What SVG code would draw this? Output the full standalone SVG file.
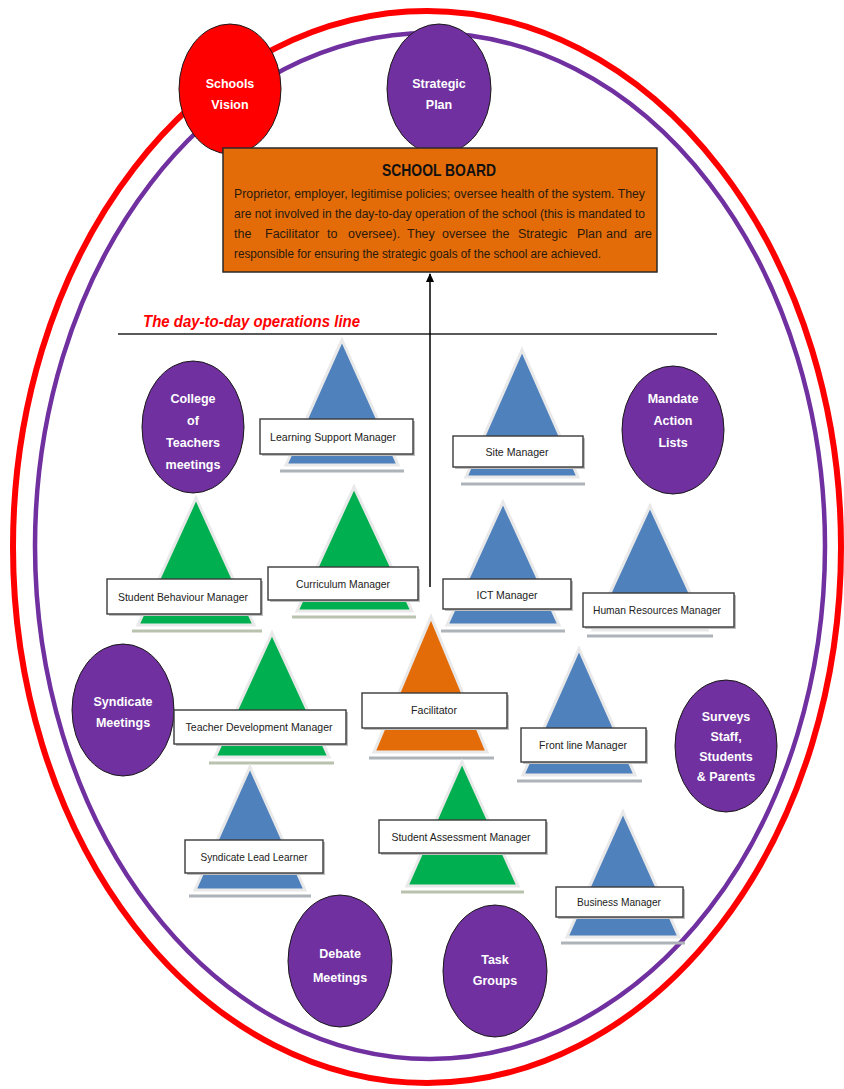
<svg xmlns="http://www.w3.org/2000/svg" width="844" height="1089" viewBox="0 0 844 1089">
<defs>
<marker id="ah" markerWidth="9" markerHeight="8" refX="8" refY="4" orient="auto" markerUnits="userSpaceOnUse">
<path d="M0,0 L9,4 L0,8 Z" fill="#000"/>
</marker>
<style>
.ring-r{fill:none;stroke:#FF0000;stroke-width:6}
.ring-p{fill:none;stroke:#7030A0;stroke-width:4.5}
.circ{stroke:#1a1a1a;stroke-width:1}
.purple{fill:#7030A0}
.red{fill:#FF0000}
.ct{font-family:"Liberation Sans",Arial,sans-serif;font-weight:bold;font-size:12.5px;fill:#fff;text-anchor:middle}
.tri{stroke:#e9e9e9;stroke-width:3;stroke-linejoin:miter}
.blue{fill:#4F81BD}
.green{fill:#00B050}
.orange{fill:#E36C09}
.sh{stroke:#aeb3ba;stroke-width:3}
.shg{stroke:#b9c2ad;stroke-width:3}
.box{fill:#fff;stroke:#3a3a3a;stroke-width:1.4}
.boxsh{fill:#bfbfbf}
.lt{font-family:"Liberation Sans",Arial,sans-serif;font-size:11.5px;fill:#222;text-anchor:middle}
.bt{font-family:"Liberation Sans",Arial,sans-serif;font-size:12.5px;fill:#2a1a0c}
</style>
</defs>
<rect width="844" height="1089" fill="#fff"/>

<g id="rings">
<ellipse class="ring-r" cx="427" cy="547" rx="414" ry="536"/>
<ellipse class="ring-p" cx="430" cy="546" rx="395" ry="513"/>
</g>

<g id="schools-vision">
<ellipse class="circ red" cx="230" cy="89" rx="51" ry="65"/>
<text class="ct" x="230" y="88">Schools</text>
<text class="ct" x="230" y="109">Vision</text>
</g>

<g id="strategic-plan">
<ellipse class="circ purple" cx="439" cy="89" rx="52" ry="65"/>
<text class="ct" x="439" y="88">Strategic</text>
<text class="ct" x="439" y="109">Plan</text>
</g>

<g id="school-board">
<rect x="223" y="148" width="434" height="124" fill="#E36C09" stroke="#2a2a2a" stroke-width="1.5"/>
<text x="439" y="176" text-anchor="middle" font-family="Liberation Sans,Arial,sans-serif" font-weight="bold" font-size="17" fill="#111" textLength="114" lengthAdjust="spacingAndGlyphs">SCHOOL BOARD</text>
<text class="bt" x="234" y="198" textLength="411" lengthAdjust="spacingAndGlyphs">Proprietor, employer, legitimise policies; oversee health of the system.  They</text>
<text class="bt" x="234" y="218" textLength="411" lengthAdjust="spacingAndGlyphs">are not involved in the day-to-day operation of the school (this is mandated to</text>
<text class="bt" y="238"><tspan x="234">the</tspan><tspan x="265">Facilitator</tspan><tspan x="327">to</tspan><tspan x="348">oversee).</tspan><tspan x="407">They</tspan><tspan x="442">oversee</tspan><tspan x="492">the</tspan><tspan x="518">Strategic</tspan><tspan x="577">Plan</tspan><tspan x="606">and</tspan><tspan x="634">are</tspan></text>
<text class="bt" x="234" y="258" textLength="367" lengthAdjust="spacingAndGlyphs">responsible for ensuring the strategic goals of the school are achieved.</text>
</g>

<g id="operations-line">
<line x1="118" y1="334" x2="717" y2="334" stroke="#222" stroke-width="1.3"/>
<text x="143" y="327" font-family="Liberation Sans,Arial,sans-serif" font-weight="bold" font-style="italic" font-size="16" fill="#FF0000" textLength="217" lengthAdjust="spacingAndGlyphs">The day-to-day operations line</text>
</g>

<g id="connectors">
<line x1="430" y1="587" x2="430" y2="274" stroke="#000" stroke-width="1.5" marker-end="url(#ah)"/>
</g>

<g id="college-of-teachers">
<ellipse class="circ purple" cx="193" cy="427" rx="51" ry="66"/>
<text class="ct" x="193" y="403">College</text>
<text class="ct" x="193" y="425">of</text>
<text class="ct" x="193" y="447">Teachers</text>
<text class="ct" x="193" y="469">meetings</text>
</g>

<g id="mandate-action-lists">
<ellipse class="circ purple" cx="673" cy="430" rx="51" ry="64"/>
<text class="ct" x="673" y="403">Mandate</text>
<text class="ct" x="673" y="425">Action</text>
<text class="ct" x="673" y="447">Lists</text>
</g>

<g id="learning-support-manager">
<line class="sh" x1="280" y1="471" x2="404" y2="471"/>
<polygon class="tri blue" points="342,340 398,465 286,465"/>
<rect class="boxsh" x="262" y="421" width="153" height="35"/>
<rect class="box" x="260" y="419" width="153" height="35"/>
<text class="lt" x="333" y="441" textLength="126" lengthAdjust="spacingAndGlyphs">Learning Support Manager</text>
</g>

<g id="site-manager">
<line class="sh" x1="461" y1="484" x2="585" y2="484"/>
<polygon class="tri blue" points="522,350 578,477 466,477"/>
<rect class="boxsh" x="455" y="438" width="130" height="31"/>
<rect class="box" x="453" y="436" width="130" height="31"/>
<text class="lt" x="517" y="456" textLength="63" lengthAdjust="spacingAndGlyphs">Site Manager</text>
</g>

<g id="student-behaviour-manager">
<line class="shg" x1="132" y1="631" x2="262" y2="631"/>
<polygon class="tri green" points="196,498 254,625 138,625"/>
<rect class="boxsh" x="109" y="581" width="154" height="35"/>
<rect class="box" x="107" y="579" width="154" height="35"/>
<text class="lt" x="183" y="601" textLength="130" lengthAdjust="spacingAndGlyphs">Student Behaviour Manager</text>
</g>

<g id="curriculum-manager">
<line class="shg" x1="292" y1="617" x2="416" y2="617"/>
<polygon class="tri green" points="354,487 412,611 297,611"/>
<rect class="boxsh" x="270" y="569" width="150" height="33"/>
<rect class="box" x="268" y="567" width="150" height="33"/>
<text class="lt" x="343" y="588" textLength="94" lengthAdjust="spacingAndGlyphs">Curriculum Manager</text>
</g>

<g id="ict-manager">
<line class="sh" x1="441" y1="631" x2="565" y2="631"/>
<polygon class="tri blue" points="503,502 559,625 447,625"/>
<rect class="boxsh" x="445" y="581" width="128" height="30"/>
<rect class="box" x="443" y="579" width="128" height="30"/>
<text class="lt" x="507" y="599" textLength="61" lengthAdjust="spacingAndGlyphs">ICT Manager</text>
</g>

<g id="human-resources-manager">
<line class="sh" x1="587" y1="636" x2="713" y2="636"/>
<polygon class="tri blue" points="650,506 707,630 593,630"/>
<rect class="boxsh" x="585" y="595" width="151" height="34"/>
<rect class="box" x="583" y="593" width="151" height="34"/>
<text class="lt" x="657" y="614" textLength="128" lengthAdjust="spacingAndGlyphs">Human Resources Manager</text>
</g>

<g id="syndicate-meetings">
<ellipse class="circ purple" cx="123" cy="710" rx="51" ry="66"/>
<text class="ct" x="123" y="706">Syndicate</text>
<text class="ct" x="123" y="727">Meetings</text>
</g>

<g id="teacher-development-manager">
<line class="shg" x1="209" y1="763" x2="334" y2="763"/>
<polygon class="tri green" points="272,633 329,757 215,757"/>
<rect class="boxsh" x="176" y="712" width="172" height="34"/>
<rect class="box" x="174" y="710" width="172" height="34"/>
<text class="lt" x="259" y="731" textLength="147" lengthAdjust="spacingAndGlyphs">Teacher Development Manager</text>
</g>

<g id="facilitator">
<line class="sh" x1="369" y1="758" x2="494" y2="758"/>
<polygon class="tri orange" points="431,617 487,752 374,752"/>
<rect class="boxsh" x="364" y="695" width="145" height="35"/>
<rect class="box" x="362" y="693" width="145" height="35"/>
<text class="lt" x="434" y="714" textLength="46" lengthAdjust="spacingAndGlyphs">Facilitator</text>
</g>

<g id="front-line-manager">
<line class="sh" x1="517" y1="781" x2="642" y2="781"/>
<polygon class="tri blue" points="579,649 635,775 523,775"/>
<rect class="boxsh" x="523" y="730" width="125" height="34"/>
<rect class="box" x="521" y="728" width="125" height="34"/>
<text class="lt" x="583" y="749" textLength="88" lengthAdjust="spacingAndGlyphs">Front line Manager</text>
</g>

<g id="surveys">
<ellipse class="circ purple" cx="726" cy="746" rx="51" ry="66"/>
<text class="ct" x="726" y="721" font-size="12">Surveys</text>
<text class="ct" x="726" y="741" font-size="12">Staff,</text>
<text class="ct" x="726" y="761" font-size="12">Students</text>
<text class="ct" x="726" y="781" font-size="12">&amp; Parents</text>
</g>

<g id="student-assessment-manager">
<line class="shg" x1="401" y1="892" x2="524" y2="892"/>
<polygon class="tri green" points="462,762 518,886 407,886"/>
<rect class="boxsh" x="381" y="822" width="167" height="33"/>
<rect class="box" x="379" y="820" width="167" height="33"/>
<text class="lt" x="461" y="841" textLength="139" lengthAdjust="spacingAndGlyphs">Student Assessment Manager</text>
</g>

<g id="syndicate-lead-learner">
<line class="sh" x1="189" y1="896" x2="311" y2="896"/>
<polygon class="tri blue" points="250,767 305,890 195,890"/>
<rect class="boxsh" x="187" y="842" width="138" height="33"/>
<rect class="box" x="185" y="840" width="138" height="33"/>
<text class="lt" x="254" y="861" textLength="107" lengthAdjust="spacingAndGlyphs">Syndicate Lead Learner</text>
</g>

<g id="business-manager">
<line class="sh" x1="561" y1="943" x2="685" y2="943"/>
<polygon class="tri blue" points="623,812 679,937 567,937"/>
<rect class="boxsh" x="558" y="889" width="127" height="30"/>
<rect class="box" x="556" y="887" width="127" height="30"/>
<text class="lt" x="619" y="906" textLength="84" lengthAdjust="spacingAndGlyphs">Business Manager</text>
</g>

<g id="debate-meetings">
<ellipse class="circ purple" cx="340" cy="961" rx="52" ry="66"/>
<text class="ct" x="340" y="958">Debate</text>
<text class="ct" x="340" y="982">Meetings</text>
</g>

<g id="task-groups">
<ellipse class="circ purple" cx="495" cy="971" rx="52" ry="66"/>
<text class="ct" x="495" y="964" font-size="12">Task</text>
<text class="ct" x="495" y="985" font-size="12">Groups</text>
</g>
</svg>
